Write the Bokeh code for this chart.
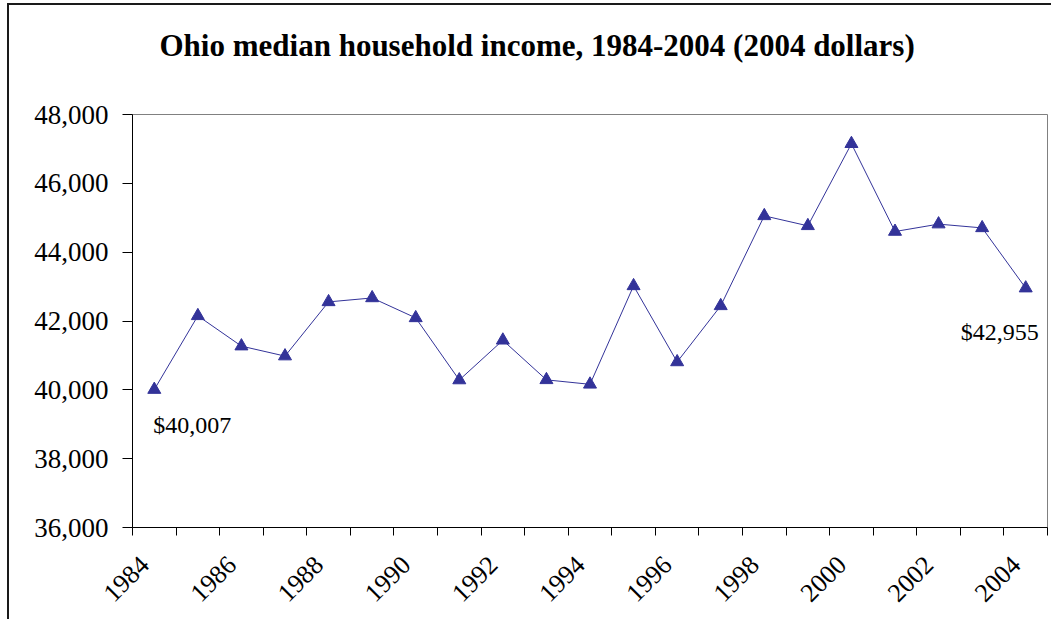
from bokeh.plotting import figure
from bokeh.models import (Range1d, FixedTicker, NumeralTickFormatter,
                          CustomJSTickFormatter, ColumnDataSource, Title)
from bokeh.core.properties import value
from bokeh.embed import file_html
from bokeh.resources import INLINE
import math

# ---- data ----
years = list(range(1984, 2005))
income = [40007, 42150, 41270, 40980, 42555, 42670, 42090, 40285, 41440, 40290,
          40160, 43020, 40810, 42440, 45055, 44765, 47150, 44600, 44815, 44705,
          42955]
label_years = [1984, 2004]
label_values = [40007, 42955]
label_texts = ["$40,007", "$42,955"]
x_tick_years = list(range(1984, 2005, 2))
y_ticks = [36000, 38000, 40000, 42000, 44000, 46000, 48000]
title_text = "Ohio median household income, 1984-2004 (2004 dollars)"

FONT = "Liberation Serif"
NAVY = "#333399"

p = figure(width=1044, height=616, output_backend="svg", toolbar_location=None,
           title=None,
           x_range=Range1d(years[0] - 0.5, years[-1] + 0.5),
           y_range=Range1d(y_ticks[0], y_ticks[-1]),
           min_border_left=123, min_border_right=6,
           min_border_top=109, min_border_bottom=94,
           background_fill_color="white", border_fill_color="white")
p.margin = (3, 0, 0, 7)
p.styles = {"border-top": "2px solid #1a1a1a", "border-left": "2px solid #1a1a1a"}

# spacer between title and plot area, then the title itself
spacer = Title(text=" ", text_font_size="10px", standoff=24)
main_title = Title(text=title_text, text_font=FONT, text_font_size="31px",
                   text_font_style="bold", text_color="black", align="left",
                   offset=27, standoff=30)
p.add_layout(spacer, "above")
p.add_layout(main_title, "above")

p.xgrid.visible = False
p.ygrid.visible = False
p.outline_line_color = "#808080"
p.outline_line_width = 1

# x axis: labels every other year, tick marks between categories
label_shift = 0.22
xa = p.xaxis[0]
xa.ticker = FixedTicker(ticks=[y - label_shift for y in x_tick_years],
                        minor_ticks=[y - 0.5 for y in years] + [years[-1] + 0.5])
xa.formatter = CustomJSTickFormatter(code="return Math.round(tick).toString()")
xa.major_tick_out = 0
xa.major_tick_in = 0
xa.minor_tick_out = 8
xa.minor_tick_in = 0
xa.minor_tick_line_color = "black"
xa.axis_line_color = "black"
xa.major_label_orientation = math.pi / 4
xa.major_label_standoff = 25
xa.major_label_text_font = FONT
xa.major_label_text_font_size = "26px"
xa.major_label_text_color = "black"

ya = p.yaxis[0]
ya.ticker = FixedTicker(ticks=y_ticks)
ya.formatter = NumeralTickFormatter(format="0,0")
ya.major_tick_out = 10
ya.major_tick_in = 0
ya.minor_tick_out = 0
ya.minor_tick_in = 0
ya.axis_line_color = "black"
ya.major_tick_line_color = "black"
ya.major_label_standoff = 14
ya.major_label_text_font = FONT
ya.major_label_text_font_size = "27px"
ya.major_label_text_color = "black"

src = ColumnDataSource(dict(x=years, y=income))
p.line("x", "y", source=src, line_color=NAVY, line_width=1)
p.scatter("x", "y", source=src, marker="triangle", size=13,
          fill_color=NAVY, line_color=NAVY)

p.text(x=[label_years[0]], y=[label_values[0]], text=[label_texts[0]],
       text_font=value(FONT), text_font_size="24px", text_color="black",
       text_align="left", text_baseline="middle", x_offset=-1, y_offset=35)
p.text(x=[label_years[1]], y=[label_values[1]], text=[label_texts[1]],
       text_font=value(FONT), text_font_size="24px", text_color="black",
       text_align="right", text_baseline="middle", x_offset=13, y_offset=44)

open("out.html", "w").write(file_html(p, INLINE))
